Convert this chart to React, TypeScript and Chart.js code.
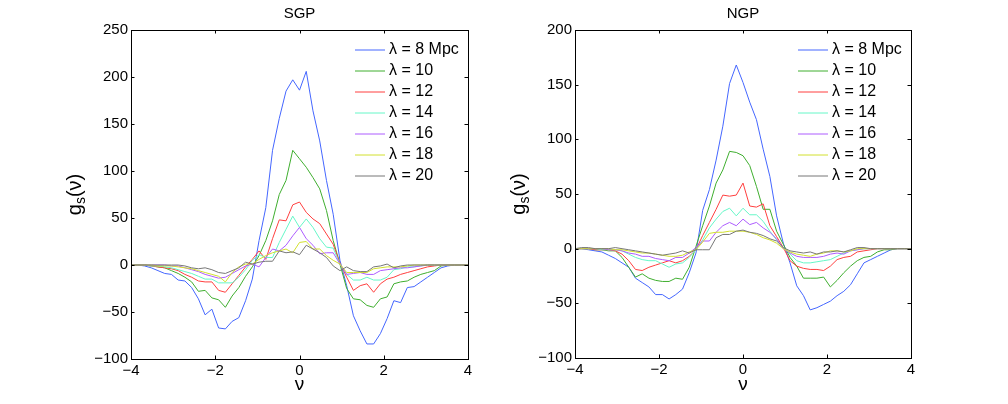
import { useEffect, useRef } from 'react';
import Chart from 'chart.js/auto';

// grid of nu values shared by both panels
const NU = [
    -4, -3.84, -3.68, -3.52, -3.36, -3.2, -3.04, -2.88, -2.72, -2.56, -2.4, -2.24, -2.08,
    -1.92, -1.76, -1.6, -1.44, -1.28, -1.12, -0.96, -0.8, -0.64, -0.48, -0.32, -0.16, 0,
    0.16, 0.32, 0.48, 0.64, 0.8, 0.96, 1.12, 1.28, 1.44, 1.6, 1.76, 1.92, 2.08, 2.24, 2.4,
    2.56, 2.72, 2.88, 3.04, 3.2, 3.36, 3.52, 3.68, 3.84, 4
];

const LAMBDA_LABELS = ['λ = 8 Mpc', 'λ = 10', 'λ = 12', 'λ = 14', 'λ = 16', 'λ = 18', 'λ = 20'];
const LINE_COLORS = ['#4466ff', '#3fae2f', '#ff3f3f', '#66f7c8', '#ad5cff', '#d2e02e', '#777777'];

const X_TICKS = [-4, -2, 0, 2, 4];
const SGP_Y_TICKS = [-100, -50, 0, 50, 100, 150, 200, 250];
const NGP_Y_TICKS = [-100, -50, 0, 50, 100, 150, 200];

// SGP
const SGP_L8 = [0, 0, -1, -3, -6, -9, -10, -16, -17, -24, -36, -53, -47, -67, -68, -60, -56, -38, -15, 26, 61, 122, 156, 185, 197, 186, 206, 164, 132, 90, 54, 5, -22, -54, -70, -84, -84, -73, -57, -38, -40, -24, -23, -18, -13, -8, -3, -1, 0, 0, 0];
const SGP_L10 = [0, 0, 0, -1, -2, -3, -6, -9, -13, -18, -28, -27, -35, -37, -45, -33, -24, -12, -2, 10, 26, 47, 75, 90, 122, 113, 104, 93, 81, 58, 26, 1, -25, -36, -37, -43, -45, -36, -34, -20, -18, -17, -13, -10, -8, -6, -1, 0, 0, 0, 0];
const SGP_L12 = [0, 0, 0, -1, -2, -3, -4, -6, -10, -13, -17, -18, -18, -27, -29, -20, -11, -2, 6, 15, 6, 28, 48, 47, 64, 67, 56, 49, 44, 33, 22, 2, -13, -27, -22, -20, -29, -20, -15, -13, -10, -8, -6, -4, -2, -1, 0, 0, 0, 0, 0];
const SGP_L14 = [0, 0, 0, -1, -1, -2, -3, -5, -7, -9, -12, -15, -15, -19, -19, -19, -13, -5, 5, 11, 8, 8, 24, 38, 52, 40, 49, 40, 28, 19, 18, 1, -10, -16, -16, -13, -16, -16, -13, -5, -4, -2, -2, -1, 0, 0, 0, 0, 0, 0, 0];
const SGP_L16 = [0, 0, 0, 0, 0, 0, -1, -1, -3, -5, -7, -10, -12, -14, -13, -9, -5, -1, 1, -2, 8, 17, 15, 21, 31, 40, 28, 21, 12, 13, 13, 1, -10, -9, -8, -10, -10, -6, -5, -4, -3, -3, -2, -1, 0, 0, 0, 0, 0, 0, 0];
const SGP_L18 = [0, 0, 0, 0, -1, -1, -1, -2, -3, -4, -6, -8, -10, -12, -18, -8, -2, 1, 1, 6, 10, 13, 15, 17, 13, 24, 25, 17, 17, 10, 5, 1, -8, -8, -8, -8, -4, -3, -2, -2, -2, -1, 0, 0, 0, 0, 0, 0, 0, 0, 0];
const SGP_L20 = [0, 0, 0, 0, 0, 0, 0, 0, -1, -3, -4, -3, -5, -8, -9, -6, -3, 3, 1, 3, 4, 4, 15, 13, 14, 11, 21, 17, 13, 8, -1, -6, -2, -6, -7, -7, -2, -1, 1, -3, -1, 0, 0, 0, 0, 0, 0, 0, 0, 0, 0];

// NGP
const NGP_L8 = [0, 0, -1, -2, -3, -6, -9, -13, -17, -27, -31, -35, -42, -42, -46, -42, -37, -22, -4, 35, 54, 81, 112, 151, 168, 152, 134, 118, 91, 66, 30, 5, -13, -34, -43, -56, -54, -51, -48, -43, -39, -33, -23, -13, -10, -7, -4, -1, 0, 0, 0];
const NGP_L10 = [0, 0, 0, -1, -1, -2, -2, -8, -17, -26, -23, -27, -29, -30, -30, -27, -28, -17, 2, 21, 39, 60, 72, 89, 88, 85, 76, 57, 36, 36, 16, 4, -8, -16, -27, -27, -27, -26, -35, -29, -22, -16, -11, -8, -7, -3, -1, -1, 0, 0, 0];
const NGP_L12 = [0, 0, 0, -1, -1, -1, -2, -5, -11, -19, -20, -17, -15, -13, -11, -13, -11, -7, -1, 12, 24, 36, 49, 48, 49, 60, 39, 38, 41, 21, 11, 1, -11, -16, -18, -19, -19, -20, -16, -10, -8, -7, -3, -2, -1, 0, 0, 0, 0, 0, 0];
const NGP_L14 = [0, 0, 0, 0, -1, -1, -1, -2, -5, -8, -10, -11, -11, -14, -17, -14, -13, -8, -1, 8, 19, 27, 34, 37, 30, 37, 31, 31, 25, 16, 8, 1, -5, -11, -13, -13, -12, -11, -10, -7, -4, -2, -1, 0, 0, 0, 0, 0, 0, 0, 0];
const NGP_L16 = [0, 0, 0, 0, 0, -1, -1, -2, -4, -5, -7, -7, -9, -10, -11, -8, -8, -4, 1, 7, 7, 15, 21, 24, 21, 27, 22, 24, 19, 15, 9, 0, -4, -7, -8, -8, -8, -7, -5, -4, -5, -2, -1, 0, 0, 0, 0, 0, 0, 0, 0];
const NGP_L18 = [0, 0, 0, 0, 0, 0, -1, -1, -2, -3, -4, -4, -5, -6, -7, -7, -6, -3, -1, 6, 14, 15, 15, 16, 16, 16, 15, 13, 10, 8, 5, 0, -3, -5, -6, -7, -5, -4, -2, -2, -3, -2, 0, 0, 0, 0, 0, 0, 0, 0, 0];
const NGP_L20 = [0, 1, 1, 0, 0, 0, 1, 0, -1, -2, -3, -4, -5, -6, -5, -4, -2, -4, -1, -1, -1, 10, 13, 13, 16, 17, 15, 14, 12, 9, 7, 1, -2, -3, -4, -3, -5, -3, -3, -2, -3, -1, 1, 1, 0, 0, 0, 0, 0, 0, 0];

const FONT = "'Liberation Sans', Arial, Helvetica, sans-serif";
const W = 504;
const H = 404;

type PanelProps = {
    title: string
    series: number[][]
    yTicks: number[]
    left: number
    plotLeft: number
    plotRight: number
    plotBottom: number
};

const Panel = ({ title, series, yTicks, left, plotLeft, plotRight, plotBottom }: PanelProps) => {
    const canvas = useRef<HTMLCanvasElement>(null);

    useEffect(() => {
        // box, inward ticks, legend and the y label, the way matlab draws them
        const frame = {
            id: 'frame',
            afterDraw(chart: any) {
                const { ctx, chartArea: a, scales } = chart;
                const tick = 3.5;
                ctx.save();
                ctx.strokeStyle = '#000';
                ctx.lineWidth = 1;
                ctx.strokeRect(a.left + 0.5, a.top + 0.5, a.right - a.left, a.bottom - a.top);
                ctx.beginPath();
                X_TICKS.forEach(v => {
                    const x = Math.round(scales.x.getPixelForValue(v)) + 0.5;
                    ctx.moveTo(x, a.bottom); ctx.lineTo(x, a.bottom - tick);
                    ctx.moveTo(x, a.top); ctx.lineTo(x, a.top + tick);
                });
                yTicks.forEach(v => {
                    const y = Math.round(scales.y.getPixelForValue(v)) + 0.5;
                    ctx.moveTo(a.left, y); ctx.lineTo(a.left + tick, y);
                    ctx.moveTo(a.right, y); ctx.lineTo(a.right - tick, y);
                });
                ctx.stroke();

                // legend, top right inside the axes
                ctx.font = `16px ${FONT}`;
                ctx.textBaseline = 'middle';
                ctx.textAlign = 'left';
                chart.data.datasets.forEach((ds: any, k: number) => {
                    const y = a.top + 20 + 21 * k;
                    ctx.strokeStyle = ds.borderColor;
                    ctx.beginPath();
                    ctx.moveTo(a.right - 113, y);
                    ctx.lineTo(a.right - 83, y);
                    ctx.stroke();
                    ctx.fillStyle = '#000';
                    ctx.fillText(ds.label, a.right - 79, y);
                });

                // g_s(nu), rotated, with a subscript
                const cx = a.left - 56;
                const cy = (a.top + a.bottom) / 2;
                ctx.translate(cx, cy);
                ctx.rotate(-Math.PI / 2);
                ctx.fillStyle = '#000';
                const big = `20px ${FONT}`;
                const small = `14px ${FONT}`;
                ctx.font = big;
                const wg = ctx.measureText('g').width;
                const wp = ctx.measureText('(ν)').width;
                ctx.font = small;
                const ws = ctx.measureText('s').width;
                let x = -(wg + ws + wp) / 2;
                ctx.font = big;
                ctx.fillText('g', x, 0);
                x += wg;
                ctx.font = small;
                ctx.fillText('s', x, 6);
                x += ws;
                ctx.font = big;
                ctx.fillText('(ν)', x, 0);
                ctx.restore();
            }
        };

        const chart = new Chart(
            // @ts-expect-error next
            canvas.current,
            {
                type: 'line',
                data: {
                    datasets: series.map((values, k) => ({
                        label: LAMBDA_LABELS[k],
                        data: values.map((g, i) => ({ x: NU[i], y: g })),
                        borderColor: LINE_COLORS[k],
                        borderWidth: 1,
                        pointRadius: 0,
                        fill: false,
                        tension: 0,
                        order: series.length - k
                    }))
                },
                options: {
                    responsive: false,
                    animation: false,
                    layout: {
                        padding: { left: 0, right: W - plotRight, top: 0, bottom: 0 }
                    },
                    plugins: {
                        legend: { display: false },
                        tooltip: { enabled: false },
                        title: {
                            display: true,
                            fullSize: false,
                            text: title,
                            color: '#000',
                            font: { size: 15, weight: 'normal', family: FONT },
                            padding: { top: 5, bottom: 7 }
                        }
                    },
                    scales: {
                        x: {
                            type: 'linear',
                            min: X_TICKS[0],
                            max: X_TICKS[X_TICKS.length - 1],
                            afterBuildTicks: (scale: any) => {
                                scale.ticks = X_TICKS.map(v => ({ value: v }));
                            },
                            afterFit: (scale: any) => {
                                scale.height = H - plotBottom;
                            },
                            grid: { display: false, drawTicks: false },
                            border: { display: false },
                            ticks: {
                                color: '#000',
                                padding: 3,
                                font: { size: 15, family: FONT },
                                callback: (v: any) => String(v).replace('-', '\u2212')
                            },
                            title: {
                                display: true,
                                text: 'ν',
                                color: '#000',
                                font: { size: 19, family: FONT },
                                padding: { top: 0, bottom: 8 }
                            }
                        },
                        y: {
                            type: 'linear',
                            min: yTicks[0],
                            max: yTicks[yTicks.length - 1],
                            afterBuildTicks: (scale: any) => {
                                scale.ticks = yTicks.map(v => ({ value: v }));
                            },
                            afterFit: (scale: any) => {
                                scale.width = plotLeft;
                            },
                            grid: { display: false, drawTicks: false },
                            border: { display: false },
                            ticks: {
                                color: '#000',
                                padding: 3,
                                font: { size: 15, family: FONT },
                                callback: (v: any) => String(v).replace('-', '\u2212')
                            }
                        }
                    }
                },
                plugins: [frame]
            }
        );

        return () => {
            chart.destroy();
        };
    }, [series]);

    return (
        <canvas
            ref={canvas}
            width={W}
            height={H}
            style={{ position: 'absolute', left, top: 0, width: W, height: H }}
        ></canvas>
    );
};

const SGP_SERIES = [SGP_L8, SGP_L10, SGP_L12, SGP_L14, SGP_L16, SGP_L18, SGP_L20];
const NGP_SERIES = [NGP_L8, NGP_L10, NGP_L12, NGP_L14, NGP_L16, NGP_L18, NGP_L20];

export default function App() {
    return (
        <div style={{ position: 'absolute', left: 0, top: 0, width: 1008, height: 404, background: '#fff' }}>
            <Panel title="SGP" series={SGP_SERIES} yTicks={SGP_Y_TICKS} left={0} plotLeft={131} plotRight={468} plotBottom={359} />
            <Panel title="NGP" series={NGP_SERIES} yTicks={NGP_Y_TICKS} left={504} plotLeft={71} plotRight={407} plotBottom={358} />
        </div>
    );
}
